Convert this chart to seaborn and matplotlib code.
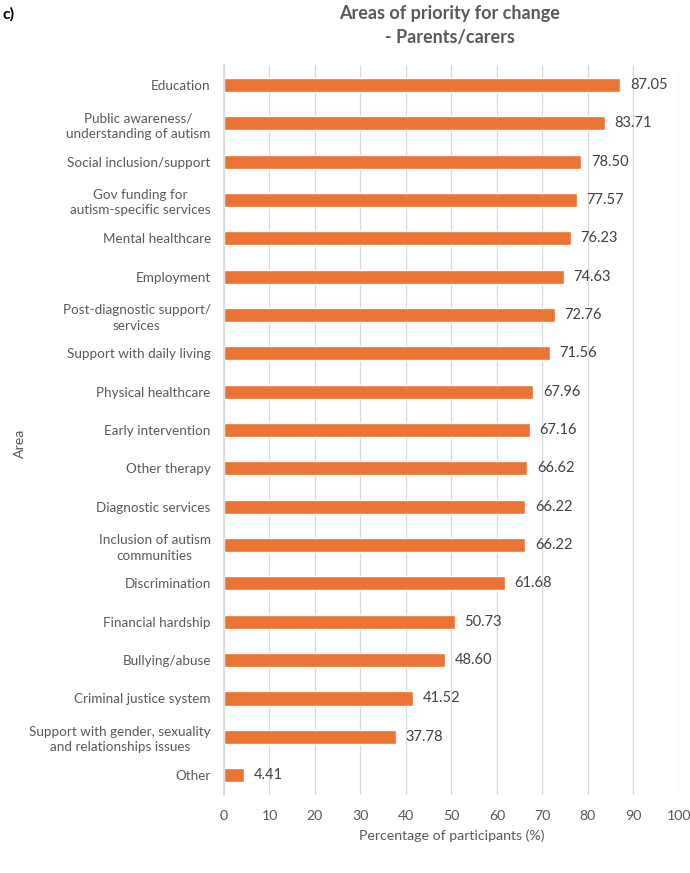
import matplotlib
matplotlib.use("Agg")
import matplotlib.pyplot as plt
import seaborn as sns
import pandas as pd

areas = [
    "Education",
    "Public awareness/\nunderstanding of autism",
    "Social inclusion/support",
    "Gov funding for\nautism-specific services",
    "Mental healthcare",
    "Employment",
    "Post-diagnostic support/\nservices",
    "Support with daily living",
    "Physical healthcare",
    "Early intervention",
    "Other therapy",
    "Diagnostic services",
    "Inclusion of autism\ncommunities",
    "Discrimination",
    "Financial hardship",
    "Bullying/abuse",
    "Criminal justice system",
    "Support with gender, sexuality\nand relationships issues",
    "Other",
]
percentages = [87.05, 83.71, 78.50, 77.57, 76.23, 74.63, 72.76, 71.56, 67.96, 67.16,
               66.62, 66.22, 66.22, 61.68, 50.73, 48.60, 41.52, 37.78, 4.41]
x_ticks = [0, 10, 20, 30, 40, 50, 60, 70, 80, 90, 100]

df = pd.DataFrame({"Area": areas, "Pct": percentages})

sns.set_theme(style="white")
plt.rcParams["font.family"] = ["Lato", "DejaVu Sans"]
text_col = "#595959"

fig = plt.figure(figsize=(6.9, 8.73), dpi=100)
ax = fig.add_axes([0.3246, 0.0893, 0.6594, 0.8362])

sns.barplot(data=df, y="Area", x="Pct", orient="h", color="#EB7434",
            saturation=1, width=0.37, ax=ax, order=areas)

ax.set_xlim(0, 100)
ax.set_ylim(len(areas) - 0.48, -0.52)
ax.set_xticks(x_ticks)
ax.xaxis.grid(True, color="#D9D9D9", linewidth=0.9)
ax.set_axisbelow(True)
for s in ["top", "right", "bottom"]:
    ax.spines[s].set_visible(False)
ax.spines["left"].set_color("#D9D9D9")
ax.tick_params(axis="x", length=0, colors=text_col, labelsize=10.2, pad=11)
ax.tick_params(axis="y", length=0, colors=text_col, labelsize=9.7, pad=9.5)
for lbl in ax.get_yticklabels():
    lbl.set_horizontalalignment("right")
    lbl.set_multialignment("center")
    lbl.set_linespacing(1.35)

ax.bar_label(ax.containers[0], fmt="%.2f", padding=7, color="#404040", fontsize=10.5)

ax.set_xlabel("Percentage of participants (%)", color=text_col, fontsize=10.2, labelpad=5)
ax.set_ylabel("Area", color=text_col, fontsize=10.2)
ax.yaxis.set_label_coords(-0.435, 0.482)

fig.text(0.652, 0.971, "Areas of priority for change\n- Parents/carers", ha="center", va="center",
         fontsize=13, fontweight="bold", color=text_col, linespacing=1.5)
fig.text(0.004, 0.984, "c)", ha="left", va="center", fontsize=11.5, fontweight="bold", color="black")

fig.savefig("out.png", dpi=100)
